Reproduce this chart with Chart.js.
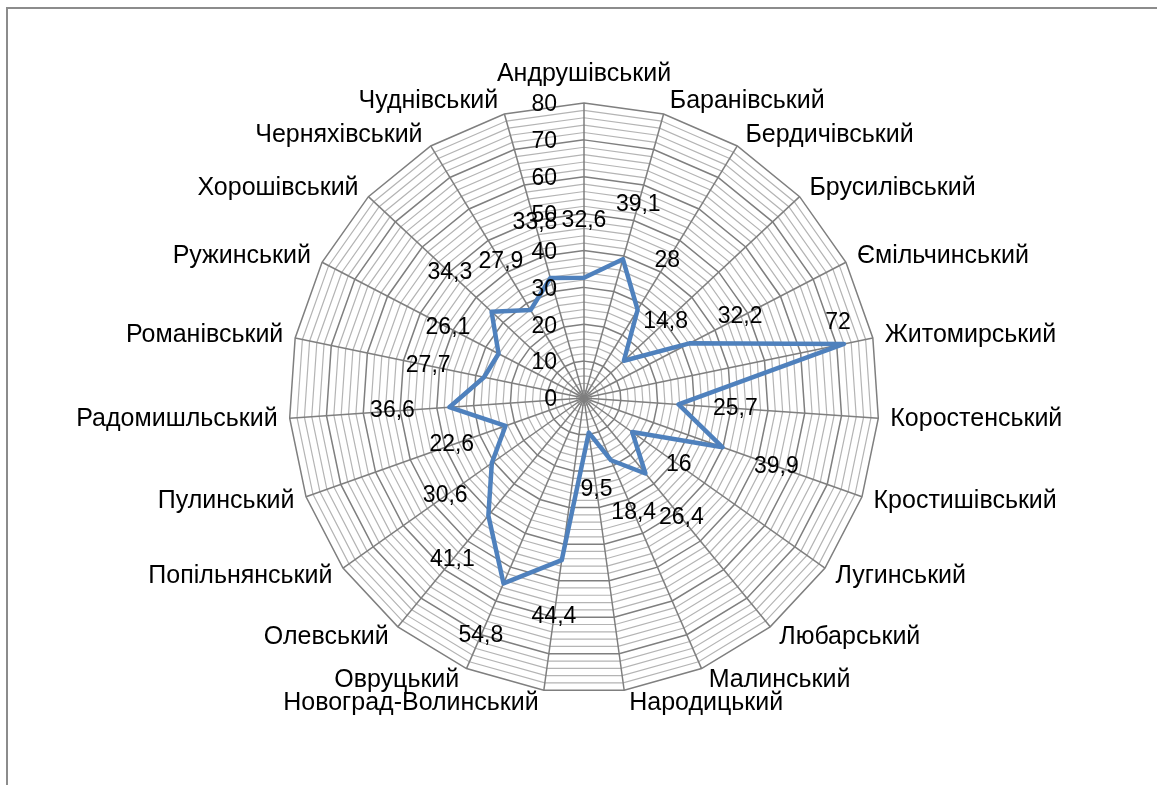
<!DOCTYPE html>
<html>
<head>
<meta charset="utf-8">
<script src="https://cdn.jsdelivr.net/npm/chart.js@4.4.0/dist/chart.umd.min.js"></script>
<style>
    html, body { margin: 0; padding: 0; background: #fff; overflow: hidden; }
    #frame {
        position: absolute; left: 6px; top: 7px; width: 1170px; height: 800px;
        border-top: 2px solid #8c8c8c; border-left: 2px solid #8c8c8c;
    }
    #chart { position: absolute; left: 0; top: 0; }
</style>
</head>
<body>
<div id="frame"></div>
<canvas id="chart" width="1157" height="785"></canvas>
<script>
// Districts, clockwise from the top
const districts = [
    'Андрушівський', 'Баранівський', 'Бердичівський', 'Брусилівський', 'Ємільчинський',
    'Житомирський', 'Коростенський', 'Кростишівський', 'Лугинський', 'Любарський',
    'Малинський', 'Народицький', 'Новоград-Волинський', 'Овруцький', 'Олевський',
    'Попільнянський', 'Пулинський', 'Радомишльський', 'Романівський', 'Ружинський',
    'Хорошівський', 'Черняхівський', 'Чуднівський'
];

const shares = [
    32.6, 39.1, 28, 14.8, 32.2,
    72, 25.7, 39.9, 16, 26.4,
    18.4, 9.5, 44.4, 54.8, 41.1,
    30.6, 22.6, 36.6, 27.7, 26.1,
    34.3, 27.9, 33.8
];

const tickValues = [0, 10, 20, 30, 40, 50, 60, 70, 80];

const FONT = '"Liberation Sans", Arial, sans-serif';

// Draws axis numbers, district names and value labels the way Excel places them
const labelPlugin = {
    id: 'excelLabels',
    afterDraw: function(chart) {
        const ctx = chart.ctx;
        const scale = chart.scales.r;
        const cx = scale.xCenter;
        const cy = scale.yCenter;
        const R = scale.drawingArea;

        ctx.save();
        ctx.fillStyle = '#000';

        // value axis
        ctx.font = '23px ' + FONT;
        ctx.textAlign = 'right';
        ctx.textBaseline = 'middle';
        tickValues.forEach(v => {
            const d = scale.getDistanceFromCenterForValue(v);
            ctx.fillText(String(v), cx - 27, cy - d + 2);
        });

        // category names
        ctx.font = '25px ' + FONT;
        districts.forEach((name, i) => {
            const p = scale.getPointPositionForValue(i, scale.max);
            const a = scale.getIndexAngle(i);
            const s = Math.sin(a);
            const c = Math.cos(a);
            ctx.textBaseline = 'middle';
            if (Math.abs(s) < 0.05) {
                ctx.textAlign = 'center';
                ctx.fillText(name, p.x, p.y - 29);
            } else {
                ctx.textAlign = s > 0 ? 'left' : 'right';
                ctx.fillText(name, p.x + Math.sign(s) * (4 + 8 * Math.abs(s)), p.y - 13 * c);
            }
        });

        // data labels
        const meta = chart.getDatasetMeta(0);
        ctx.font = '23px ' + FONT;
        ctx.textAlign = 'center';
        ctx.textBaseline = 'middle';
        meta.data.forEach((pt, i) => {
            const r = Math.hypot(pt.x - cx, pt.y - cy);
            const a = scale.getIndexAngle(i);
            let x, y;
            if (r + 57 > R) {
                x = pt.x - 6;
                y = pt.y - 21;
            } else {
                x = pt.x + 57 * Math.sin(a);
                y = pt.y - 57 * Math.cos(a);
            }
            ctx.fillText(String(shares[i]).replace('.', ','), x, y);
        });

        ctx.restore();
    }
};

new Chart(document.getElementById('chart'), {
    type: 'radar',
    data: {
        labels: districts,
        datasets: [{
            data: shares,
            borderColor: '#4F81BD',
            backgroundColor: 'transparent',
            borderWidth: 4.5,
            borderJoinStyle: 'round',
            fill: false,
            pointRadius: 0,
            pointHoverRadius: 0,
            tension: 0
        }]
    },
    options: {
        responsive: false,
        animation: false,
        devicePixelRatio: 1,
        layout: {
            padding: { left: 289, right: 278, top: 103, bottom: 92 }
        },
        plugins: {
            legend: { display: false },
            tooltip: { enabled: false }
        },
        scales: {
            r: {
                min: 0,
                max: 80,
                ticks: { display: false, stepSize: 2 },
                pointLabels: { display: false },
                grid: {
                    color: c => (c.tick && c.tick.value % 10 === 0) ? '#7f7f7f' : '#b4b4b4',
                    lineWidth: c => (c.tick && c.tick.value % 10 === 0) ? 1.5 : 1.2
                },
                angleLines: { color: '#7f7f7f', lineWidth: 1.5 }
            }
        }
    },
    plugins: [labelPlugin]
});
</script>
</body>
</html>
